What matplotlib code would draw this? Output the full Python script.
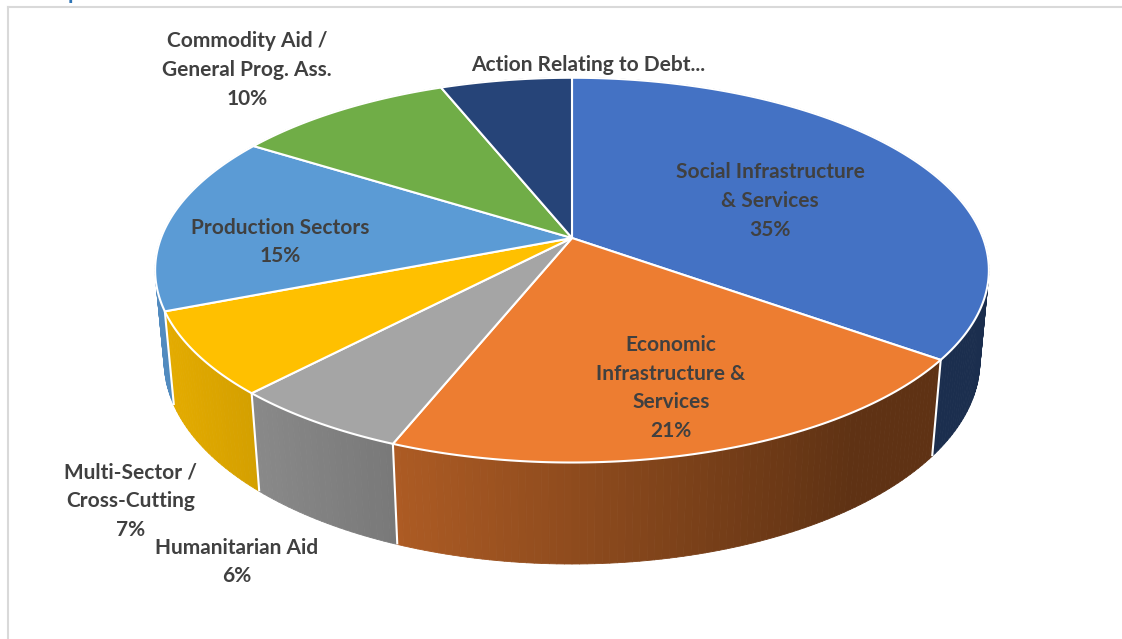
import numpy as np
import matplotlib.pyplot as plt
from matplotlib.collections import PolyCollection
from matplotlib.patches import Polygon

# Sector shares, clockwise from 12 o'clock
categories = [
    "Social Infrastructure\n& Services",
    "Economic\nInfrastructure &\nServices",
    "Humanitarian Aid",
    "Multi-Sector /\nCross-Cutting",
    "Production Sectors",
    "Commodity Aid /\nGeneral Prog. Ass.",
    "Action Relating to Debt...",
]
shares = [35, 21, 6, 7, 15, 10, 6]
show_pct = [True, True, True, True, True, True, False]
colors = ["#4472C4", "#ED7D31", "#A5A5A5", "#FFC000", "#5B9BD5", "#70AD47", "#264478"]

# label centres in pixel coordinates
label_xy = [(770, 201), (671, 388), (237, 562), (131, 501), (280, 242), (247, 70), (588, 65)]

W, H = 1122, 639

# view setup for the tilted disc
SIN_T = 0.455
COS_T = np.sqrt(1 - SIN_T ** 2)
DIST = 5.33
DEPTH = 0.25
SCALE = 411
CX, CY = 572, 238


def project(theta, h, r=1.0):
    x = r * np.cos(theta)
    y = r * np.sin(theta)
    v = y * SIN_T + h * COS_T
    w = y * COS_T - h * SIN_T
    f = DIST / (DIST + w)
    return CX + SCALE * x * f, CY - SCALE * v * f


def shade(px):
    return np.clip(0.90 - 0.00072 * (px - 160), 0.4, 1.0)


fig = plt.figure(figsize=(W / 100, H / 100), dpi=100)
ax = fig.add_axes([0, 0, 1, 1])
ax.set_xlim(0, W)
ax.set_ylim(H, 0)
ax.axis("off")

total = sum(shares)
bounds = np.cumsum([0] + shares) / total
angles = np.deg2rad(90 - 360 * bounds)

# outer walls, drawn back to front
quads, qcols, qdepth = [], [], []
for i, col in enumerate(colors):
    a0, a1 = angles[i], angles[i + 1]
    n = max(4, int(shares[i] * 4))
    ts = np.linspace(a0, a1, n + 1)
    base = np.array(plt.matplotlib.colors.to_rgb(col))
    for j in range(n):
        t0, t1 = ts[j], ts[j + 1]
        p = [project(t0, 0), project(t1, 0), project(t1, -DEPTH), project(t0, -DEPTH)]
        mx = np.mean([q[0] for q in p])
        quads.append(p)
        qcols.append(tuple(base * shade(mx)))
        qdepth.append(np.sin((t0 + t1) / 2))
order = np.argsort(qdepth)[::-1]
walls = PolyCollection([quads[k] for k in order], facecolors=[qcols[k] for k in order],
                       edgecolors=[qcols[k] for k in order], linewidths=0.6)
ax.add_collection(walls)

# white seams between slices on the visible wall
for a in angles[:-1]:
    if np.sin(a) < -0.17:
        x0, y0 = project(a, 0)
        x1, y1 = project(a, -DEPTH)
        ax.plot([x0, x1], [y0, y1], color="white", lw=1.5, solid_capstyle="butt")

# top faces
for i, col in enumerate(colors):
    ts = np.linspace(angles[i], angles[i + 1], max(8, shares[i] * 6))
    pts = [project(0, 0, r=0)] + [project(t, 0) for t in ts]
    ax.add_patch(Polygon(pts, closed=True, facecolor=col, edgecolor="white", lw=1.5,
                         joinstyle="round"))

# labels
for i, name in enumerate(categories):
    txt = name + (f"\n{shares[i]}%" if show_pct[i] else "")
    ax.text(label_xy[i][0], label_xy[i][1], txt, ha="center", va="center",
            multialignment="center", fontsize=15, fontweight="bold",
            color="#404040", family="Lato", linespacing=1.55)

# chart frame
ax.plot([8, 8], [H, 7], color="#d9d9d9", lw=1.5)
ax.plot([8, W], [7, 7], color="#d9d9d9", lw=1.5)
ax.text(74, 3, "p", color="#2E74B5", fontsize=16, fontweight="bold", ha="center",
        va="bottom", family="Lato", clip_on=False)

fig.savefig("out.png", dpi=100)
